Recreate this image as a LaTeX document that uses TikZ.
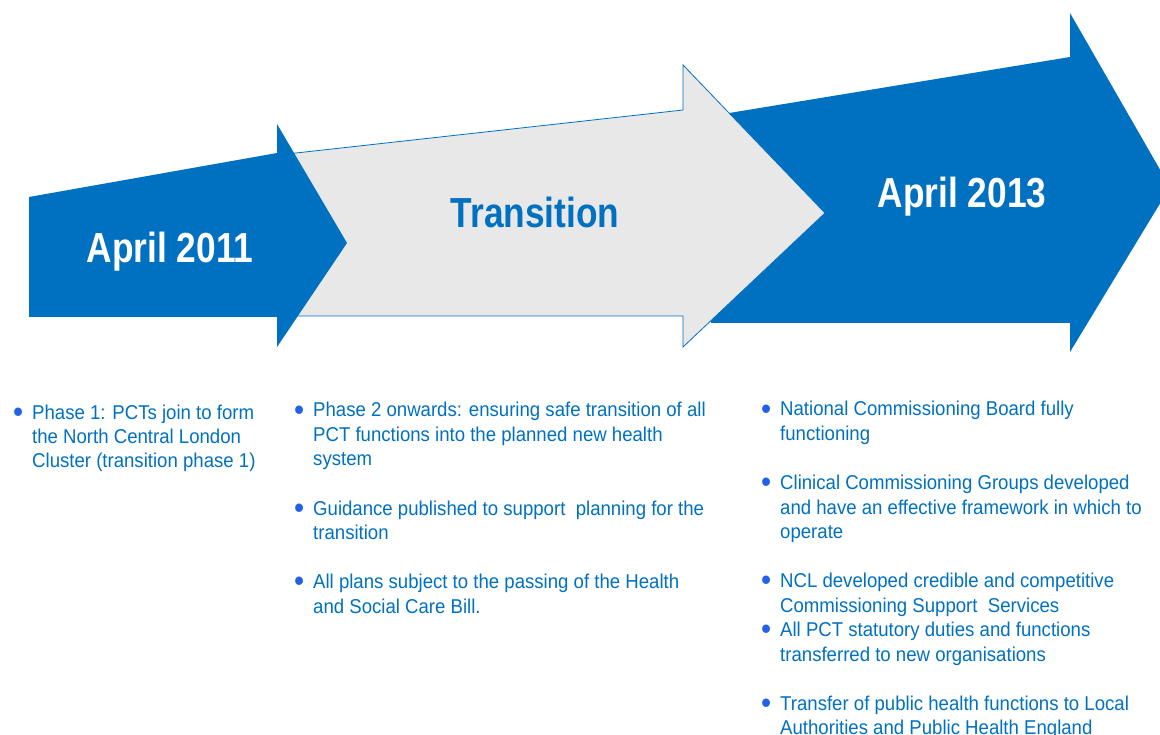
\documentclass[tikz,border=0pt]{standalone}
\usepackage{fontspec}
\setmainfont{Liberation Sans}
\newfontfamily\bodyfont[FakeStretch=0.93]{Liberation Sans}
\newfontfamily\headfont[FakeStretch=0.84]{Liberation Sans}
\usetikzlibrary{positioning}
\definecolor{nhsblue}{HTML}{0070C0}
\definecolor{palegrey}{HTML}{E8E8E8}
\definecolor{dotblue}{HTML}{2260E6}
\tikzset{
  bigarr/.style={fill=nhsblue},
  midarr/.style={fill=palegrey, draw=nhsblue, line width=0.8pt, line join=miter},
  ttl/.style={font=\headfont\bfseries\fontsize{42pt}{48pt}\selectfont, inner sep=0pt, anchor=base},
  itembox/.style={font=\bodyfont\fontsize{20pt}{24.5pt}\selectfont, text=nhsblue,
    inner sep=0pt, anchor=base west},   % one bullet point per node
}
\newcommand{\itm}[1]{\makebox[19pt][l]{\raisebox{-0.17em}{\scalebox{1.55}{\textcolor{dotblue}{\textbullet}}}}\parbox[t]{420pt}{#1}}

\begin{document}
\begin{tikzpicture}[x=1pt, y=-1pt]
  \useasboundingbox (0,0) rectangle (1160,735);
  \clip (0,0) rectangle (1160,735);
  % the three arrows, back to front
  \fill[bigarr] (711,116) -- (1070,57) -- (1070,13) -- (1170,187) -- (1070,352) -- (1070,323) -- (711,323) -- cycle;
  \draw[midarr] (260,157) -- (683,110) -- (683,65) -- (825,213) -- (683,347) -- (683,316) -- (260,316) -- cycle;
  \fill[bigarr] (29,197) -- (277,153) -- (277,124) -- (347,243) -- (277,347) -- (277,317) -- (29,317) -- cycle;

  \node[ttl, text=white] (apr11) at (170,263) {April 2011};
  \node[ttl, text=nhsblue] (trans) at (535,228) {Transition};
  \node[ttl, text=white] (apr13) at (962,208) {April 2013};

  \node[itembox] (p1) at (13,419) {\itm{Phase 1: PCTs join to form\\the North Central London\\Cluster (transition phase 1)}};

  \node[itembox] (p2a) at (294,417) {\itm{Phase 2 onwards: ensuring safe transition of all\\PCT functions into the planned new health\\system}};
  \node[itembox, below=98pt of p2a.base west, anchor=base west] (p2b) {\itm{Guidance published to support \ planning for the\\transition}};
  \node[itembox, below=73.5pt of p2b.base west, anchor=base west] (p2c) {\itm{All plans subject to the passing of the Health\\and Social Care Bill.}};

  \node[itembox] (p3a) at (761,416) {\itm{National Commissioning Board fully\\functioning}};
  \node[itembox, below=73.5pt of p3a.base west, anchor=base west] (p3b) {\itm{Clinical Commissioning Groups developed\\and have an effective framework in which to\\operate}};
  \node[itembox, below=98pt of p3b.base west, anchor=base west] (p3c) {\itm{NCL developed credible and competitive\\Commissioning Support \ Services}};
  \node[itembox, below=49pt of p3c.base west, anchor=base west] (p3d) {\itm{All PCT statutory duties and functions\\transferred to new organisations}};
  \node[itembox, below=73.5pt of p3d.base west, anchor=base west] (p3e) {\itm{Transfer of public health functions to Local\\Authorities and Public Health England}};
\end{tikzpicture}
\end{document}
